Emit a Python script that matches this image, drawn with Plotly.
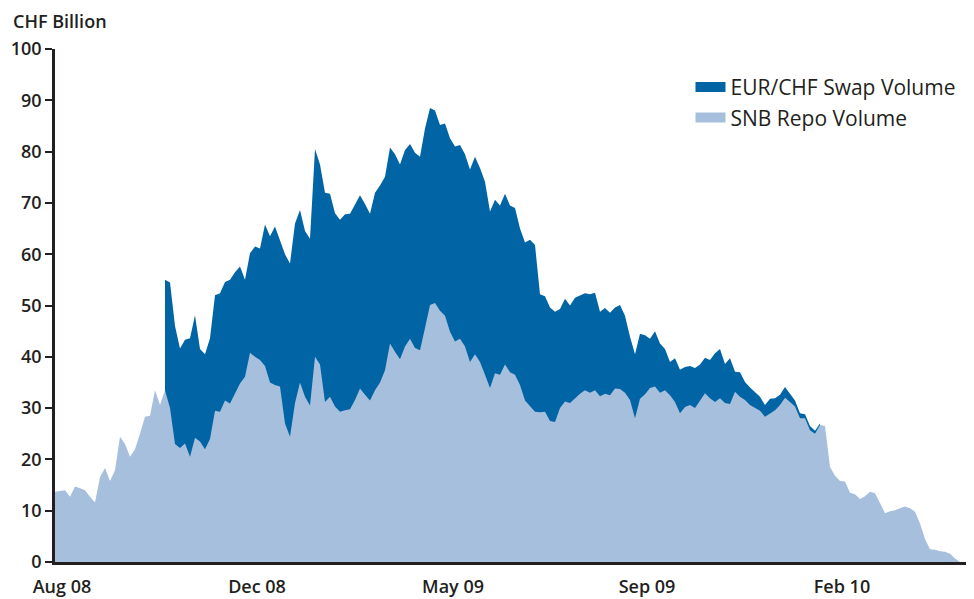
import plotly.graph_objects as go

# Observation index (roughly twice-weekly observations, Aug 2008 - Apr 2010)
repo_volume = [
    13.7, 13.8, 14.0, 12.7, 14.7, 14.4, 14.0, 12.7, 11.6, 16.5,
    18.3, 15.8, 17.9, 24.4, 23.0, 20.5, 22.0, 25.0, 28.3, 28.5,
    33.5, 30.6, 33.5, 30.0, 23.0, 22.2, 23.1, 20.5, 24.2, 23.5,
    22.0, 24.0, 29.5, 29.3, 31.5, 30.9, 33.0, 34.8, 36.1, 40.8,
    40.0, 39.4, 38.2, 35.0, 34.5, 34.2, 27.0, 24.4, 31.0, 35.0,
    32.2, 30.5, 40.0, 38.5, 31.2, 32.2, 30.3, 29.3, 29.6, 29.8,
    31.6, 33.8, 32.6, 31.5, 33.5, 35.0, 37.4, 42.6, 41.0, 39.5,
    42.0, 43.5, 41.7, 41.3, 45.6, 50.1, 50.5, 49.0, 48.0, 44.9,
    43.0, 43.5, 42.0, 39.0, 40.5, 39.0, 36.5, 33.9, 36.8, 36.5,
    38.5, 37.0, 36.5, 34.5, 31.5, 30.3, 29.3, 29.2, 29.3, 27.5,
    27.3, 30.0, 31.3, 31.0, 32.0, 32.8, 33.5, 33.0, 33.5, 32.3,
    32.8, 32.5, 33.8, 33.7, 33.0, 31.6, 28.0, 31.8, 32.7, 33.9,
    34.2, 33.0, 33.5, 32.5, 31.2, 29.0, 30.2, 30.6, 30.0, 31.5,
    32.9, 31.9, 31.2, 31.9, 31.0, 30.8, 33.2, 32.2, 31.6, 30.6,
    30.0, 29.5, 28.3, 29.0, 29.6, 30.6, 32.0, 31.2, 30.3, 28.0,
    28.0, 25.7, 25.0, 26.7, 26.5, 18.5, 16.8, 15.8, 15.7, 13.5,
    13.2, 12.3, 12.8, 13.7, 13.4, 11.5, 9.5, 9.9, 10.1, 10.5,
    10.8, 10.5, 9.8, 7.5, 4.5, 2.5, 2.4, 2.1, 2.0, 1.6,
    0.7, 0.0,
]

swap_start = 22  # first observation with EUR/CHF swap data
swap_volume = [
    21.5, 24.5, 23.0, 19.4, 20.2, 23.1, 23.9, 18.0, 18.5, 19.6,
    22.5, 23.1, 23.1, 24.1, 23.5, 22.8, 18.9, 19.4, 21.5, 21.7,
    27.6, 28.5, 30.9, 28.3, 33.0, 33.8, 35.0, 33.6, 32.3, 32.5,
    40.5, 39.0, 40.8, 39.6, 37.7, 37.4, 38.2, 38.1, 38.0, 37.7,
    37.2, 36.4, 38.5, 38.4, 37.7, 38.2, 38.5, 38.0, 38.3, 38.0,
    38.1, 37.7, 38.9, 38.4, 37.5, 36.2, 37.5, 37.7, 38.0, 37.8,
    37.5, 37.5, 38.5, 37.8, 37.6, 34.4, 33.8, 33.0, 33.3, 32.5,
    32.5, 30.5, 30.8, 32.5, 32.5, 23.0, 22.5, 22.1, 21.5, 19.3,
    20.0, 19.0, 19.5, 19.2, 18.9, 19.2, 19.0, 16.5, 16.7, 16.1,
    15.8, 16.4, 15.0, 12.3, 12.5, 12.7, 11.5, 9.6, 10.8, 9.6,
    8.0, 6.5, 8.5, 8.5, 7.8, 7.6, 7.8, 7.0, 6.9, 7.5,
    9.5, 9.6, 7.6, 8.9, 3.9, 4.8, 3.5, 3.4, 3.0, 2.7,
    2.3, 2.8, 2.3, 2.0, 2.1, 1.7, 1.2, 1.0, 0.8, 0.8,
    0.6, 0.3,
]

tick_labels = ["Aug 08", "Dec 08", "May 09", "Sep 09", "Feb 10"]
tick_obs = [1.4, 40.4, 79.6, 118.4, 157.4]

obs = list(range(len(repo_volume)))
swap_obs = obs[swap_start:swap_start + len(swap_volume)]
swap_top = [repo_volume[i] + s for i, s in zip(swap_obs, swap_volume)]

DARK = "#0165a5"
LIGHT = "#a5bfdd"
AXIS = "#231f20"
FONT = "Open Sans"

fig = go.Figure()
fig.add_trace(go.Scatter(
    x=swap_obs, y=swap_top, name="EUR/CHF Swap Volume", showlegend=False,
    mode="lines", line=dict(width=0, color=DARK),
    fill="tozeroy", fillcolor=DARK,
    customdata=swap_volume, hovertemplate="%{customdata}<extra></extra>",
))
fig.add_trace(go.Scatter(
    x=obs, y=repo_volume, name="SNB Repo Volume", showlegend=False,
    mode="lines", line=dict(width=0, color=LIGHT),
    fill="tozeroy", fillcolor=LIGHT,
))
# legend entries (wide rectangular swatches)
for name, col in [("EUR/CHF Swap Volume", DARK), ("SNB Repo Volume", LIGHT)]:
    fig.add_trace(go.Scatter(
        x=[None], y=[None], name=name, mode="lines",
        line=dict(width=11, color=col), showlegend=True,
    ))

fig.update_layout(
    width=966, height=591,
    margin=dict(l=47, r=0, t=41, b=37),
    paper_bgcolor="white", plot_bgcolor="white",
    font=dict(family=FONT, color=AXIS, size=18),
    legend=dict(
        x=0.6915, y=0.965, xanchor="left", yanchor="top",
        bgcolor="rgba(0,0,0,0)", traceorder="normal",
        font=dict(family=FONT, size=21, color=AXIS),
        tracegroupgap=0,
    ),
    annotations=[dict(
        text="CHF Billion", xref="paper", yref="paper",
        x=-44 / 919, y=1.0546, xanchor="left", yanchor="middle",
        showarrow=False, font=dict(family=FONT, size=18, color=AXIS, weight=600),
    )],
)
fig.update_xaxes(
    range=[0, 183.8], tickvals=tick_obs, ticktext=tick_labels,
    showgrid=False, zeroline=False, showline=True, linecolor=AXIS, linewidth=3,
    ticks="", tickfont=dict(family=FONT, size=18, color=AXIS, weight=600),
    ticklabelstandoff=6,
)
fig.update_yaxes(
    range=[0, 100], tickvals=list(range(0, 101, 10)),
    showgrid=False, zeroline=False, showline=True, linecolor=AXIS, linewidth=2.5,
    ticks="outside", ticklen=7, tickwidth=2, tickcolor=AXIS,
    tickfont=dict(family=FONT, size=18, color=AXIS, weight=600),
)

fig.write_html("out.html")
